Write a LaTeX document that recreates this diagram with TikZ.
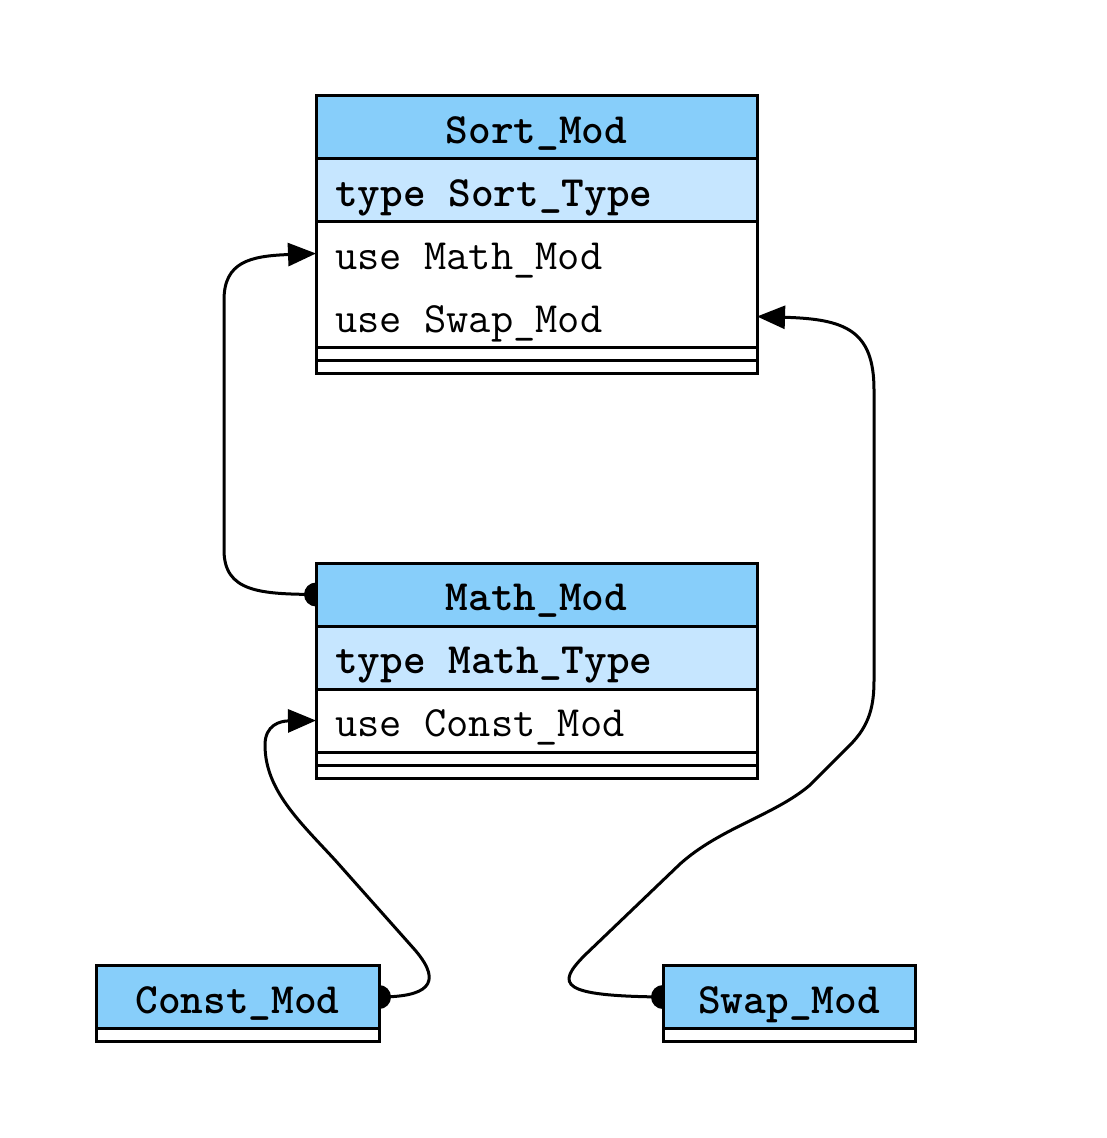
\documentclass[tikz,border=0pt]{standalone}
\usepackage{tikz}
\usetikzlibrary{shapes, arrows.meta, positioning, backgrounds}
\definecolor{titleblue}{RGB}{135,206,250}
\definecolor{typeblue}{RGB}{198,230,255}
\tikzstyle{modtitle} = [rectangle, draw, fill=titleblue, font=\ttfamily\bfseries\fontsize{21.6}{26}\selectfont,
    minimum height=31.5pt, text height=16pt, text depth=0pt, inner sep=0pt, outer sep=0pt]
\tikzstyle{modtype} = [rectangle, draw, fill=typeblue, font=\ttfamily\bfseries\fontsize{21.6}{26}\selectfont,
    text width=201.5pt, align=left, execute at begin node={\spaceskip=0.525em\relax},
    inner xsep=9.5pt, inner ysep=0pt, minimum height=31.5pt,
    text height=16pt, text depth=0pt, outer sep=0pt]
\tikzstyle{moduse} = [rectangle, fill=white, font=\ttfamily\fontsize{21.6}{26}\selectfont,
    text width=201.5pt, align=left, execute at begin node={\spaceskip=0.525em\relax},
    inner xsep=9.5pt, inner ysep=0pt, minimum height=31.5pt,
    text height=16pt, text depth=0pt, outer sep=0pt]
\tikzstyle{modfoot} = [rectangle, draw, fill=white, minimum height=6.5pt, inner sep=0pt, outer sep=0pt]
\tikzstyle{line} = [draw, line width=1.5pt, -{Triangle[length=14pt,width=11.5pt]}]
\tikzstyle{dot} = [fill=black]

\begin{document}
\begin{tikzpicture}[x=0.5pt, y=-0.5pt, line width=1.5pt]
    \useasboundingbox (0,0) rectangle (1106,1138);
    % Nodes
    \node [modtitle, minimum width=220.5pt] (sorttitle) at (536.5,127.5) {Sort\_Mod};
    \node [modtype, below=0pt of sorttitle] (sorttype) {type Sort\_Type};
    \node [moduse, below=0pt of sorttype] (sortuse1) {use Math\_Mod};
    \node [moduse, below=0pt of sortuse1] (sortuse2) {use Swap\_Mod};
    \draw (sortuse1.north west) rectangle (sortuse2.south east);
    \node [modfoot, minimum width=220.5pt, below=0pt of sortuse2] (sortfoot1) {};
    \node [modfoot, minimum width=220.5pt, below=0pt of sortfoot1] (sortfoot2) {};

    \node [modtitle, minimum width=220.5pt] (mathtitle) at (536.5,594.5) {Math\_Mod};
    \node [modtype, below=0pt of mathtitle] (mathtype) {type Math\_Type};
    \node [moduse, draw, below=0pt of mathtype] (mathuse) {use Const\_Mod};
    \node [modfoot, minimum width=220.5pt, below=0pt of mathuse] (mathfoot1) {};
    \node [modfoot, minimum width=220.5pt, below=0pt of mathfoot1] (mathfoot2) {};

    \node [modtitle, minimum width=141.5pt] (consttitle) at (237.5,997) {Const\_Mod};
    \node [modfoot, minimum width=141.5pt, below=0pt of consttitle] (constfoot) {};

    \node [modtitle, minimum width=126pt] (swaptitle) at (789,997) {Swap\_Mod};
    \node [modfoot, minimum width=126pt, below=0pt of swaptitle] (swapfoot) {};

    % Edges
    \begin{scope}[on background layer]
    \fill [white] (0,0) rectangle (1106,1138);
    \path [line] (mathtitle.west) .. controls (260,594) and (224,592) .. (224,550)
        -- (224,300) .. controls (224,262) and (250,256) .. (sortuse1.west);
    \path [line] (swaptitle.west) .. controls (560,996) and (555,985) .. (585,955)
        -- (680,864) .. controls (720,828) and (775,815) .. (810,785)
        -- (850,745) .. controls (870,725) and (874,705) .. (874,680)
        -- (874,390) .. controls (874,330) and (845,319) .. (sortuse2.east);
    \path [line] (consttitle.east) .. controls (425,997) and (445,985) .. (415,950)
        -- (335,860) .. controls (300,822) and (265,790) .. (265,745)
        .. controls (265,725) and (280,721) .. (mathuse.west);
    \fill [dot] (mathtitle.west) circle (6pt);
    \fill [dot] (swaptitle.west) circle (6pt);
    \fill [dot] (consttitle.east) circle (6pt);
    \end{scope}
\end{tikzpicture}
\end{document}
